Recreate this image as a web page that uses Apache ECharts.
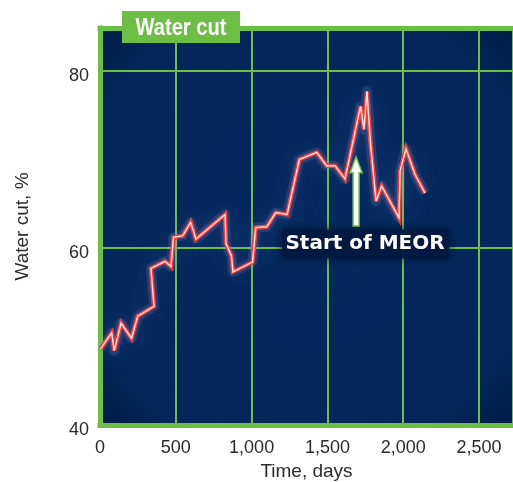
<!DOCTYPE html>
<html>
<head>
<meta charset="utf-8">
<title>Water cut</title>
<script src="https://cdn.jsdelivr.net/npm/echarts@6/dist/echarts.min.js"></script>
<style>
  html, body { margin: 0; padding: 0; background: #ffffff; }
  #chart { width: 513px; height: 482px; }
</style>
</head>
<body>
<div id="chart"></div>
<script>
// Field water cut history (days since start, %)
var days = [3, 77, 94, 139, 208, 249, 356, 336, 429, 468, 485, 546, 598, 633, 825, 831, 867, 877,
            1006, 1027, 1100, 1159, 1234, 1315, 1429, 1495, 1550, 1616, 1718, 1741, 1761, 1784,
            1821, 1858, 1972, 1979, 2018, 2078, 2144];
var waterCut = [48.6, 50.4, 48.4, 51.5, 49.8, 52.3, 53.4, 57.7, 58.5, 57.9, 61.2, 61.4, 62.9, 61.0,
                63.8, 60.5, 59.1, 57.3, 58.4, 62.3, 62.4, 64.0, 63.8, 70.0, 70.8, 69.3, 69.3, 67.8,
                76.0, 73.4, 77.7, 71.8, 65.3, 67.0, 63.4, 68.7, 71.2, 68.3, 66.2];

// Axis settings
var xTicks = { min: 0, max: 2724, interval: 500 };
var yTicks = { min: 40, max: 84.86, interval: 20 };

// MEOR start annotation (arrow from base to tip, label centre)
var meorArrow = { day: 1689, from: 62.5, to: 70.3 };
var meorLabel = { day: 1748, value: 60.5, text: 'Start of MEOR' };

var GREEN = '#6dbe45';
var points = days.map(function (d, i) { return [d, waterCut[i]]; });

var chart = echarts.init(document.getElementById('chart'), null, { renderer: 'canvas' });

var option = {
  animation: false,
  grid: {
    left: 100, right: 0, top: 28, bottom: 57,
    outerBoundsMode: 'none',
    containLabel: false,
    show: true,
    borderWidth: 0,
    backgroundColor: new echarts.graphic.RadialGradient(0.5, 0.5, 0.75, [
      { offset: 0, color: '#03295e' },
      { offset: 0.78, color: '#03265a' },
      { offset: 1, color: '#011a42' }
    ])
  },
  xAxis: [{
    type: 'value',
    min: xTicks.min, max: xTicks.max, interval: xTicks.interval,
    name: 'Time, days',
    nameLocation: 'middle',
    nameGap: 37,
    nameTextStyle: { fontFamily: 'Liberation Sans', fontSize: 19, color: '#2b2b2b' },
    axisLine: { show: true, onZero: false, lineStyle: { color: GREEN, width: 5, cap: 'square' } },
    axisTick: { show: false },
    axisLabel: {
      margin: 14, fontFamily: 'Liberation Sans', fontSize: 18, color: '#2b2b2b',
      showMaxLabel: false,
      formatter: function (v) { return v.toLocaleString('en-US'); }
    },
    splitLine: { show: true, lineStyle: { color: GREEN, width: 2 } }
  }, {
    type: 'value',
    position: 'top',
    min: xTicks.min, max: xTicks.max, interval: xTicks.interval,
    axisLine: { show: true, onZero: false, lineStyle: { color: GREEN, width: 5, cap: 'square' } },
    axisTick: { show: false },
    axisLabel: { show: false },
    splitLine: { show: false }
  }],
  yAxis: {
    type: 'value',
    min: yTicks.min, max: yTicks.max, interval: yTicks.interval,
    name: 'Water cut, %',
    nameLocation: 'middle',
    nameGap: 68,
    nameTextStyle: { fontFamily: 'Liberation Sans', fontSize: 19, color: '#2b2b2b' },
    axisLine: { show: true, onZero: false, lineStyle: { color: GREEN, width: 5, cap: 'square' } },
    axisTick: { show: false },
    axisLabel: {
      margin: 11, fontFamily: 'Liberation Sans', fontSize: 18, color: '#2b2b2b',
      verticalAlign: 'top', lineHeight: 10,
      showMaxLabel: false
    },
    splitLine: { show: true, lineStyle: { color: GREEN, width: 2 } }
  },
  series: [{
    // soft halo behind the trace
    type: 'line', data: points, symbol: 'none', silent: true, z: 2,
    lineStyle: {
      color: 'rgba(140,150,225,0.18)', width: 10, join: 'round',
      shadowBlur: 24, shadowColor: 'rgba(150,165,235,0.7)'
    }
  }, {
    type: 'line', data: points, symbol: 'none', silent: true, z: 3,
    lineStyle: { color: '#ef3c3c', width: 4.5, join: 'miter', miterLimit: 4 }
  }, {
    type: 'line', data: points, symbol: 'none', silent: true, z: 4,
    lineStyle: { color: '#ffe6e3', width: 1.4, join: 'miter', miterLimit: 4 }
  }]
};

chart.setOption(option);

function drawAnnotations() {
  var tip = chart.convertToPixel({ xAxisIndex: 0, yAxisIndex: 0 }, [meorArrow.day, meorArrow.to]);
  var base = chart.convertToPixel({ xAxisIndex: 0, yAxisIndex: 0 }, [meorArrow.day, meorArrow.from]);
  var lab = chart.convertToPixel({ xAxisIndex: 0, yAxisIndex: 0 }, [meorLabel.day, meorLabel.value]);
  var x = tip[0], ty = tip[1], by = base[1];
  var headW = 6, headH = 16, shaftW = 3;

  chart.setOption({
    graphic: [
      // panel title tab
      {
        type: 'rect', left: 122, top: 11, z: 100,
        shape: { width: 118, height: 32 },
        style: { fill: GREEN }
      },
      {
        type: 'text', x: 181, y: 28, z: 101, scaleX: 0.84,
        style: {
          text: 'Water cut', fill: '#ffffff',
          font: 'bold 24px "Liberation Sans", sans-serif',
          align: 'center', verticalAlign: 'middle'
        }
      },
      // MEOR label backing
      {
        type: 'rect', x: lab[0] - 83, y: lab[1] - 14, z: 90,
        shape: { width: 167, height: 29 },
        style: { fill: 'rgba(2,26,66,0.9)', shadowBlur: 10, shadowColor: 'rgba(0,12,40,0.9)' }
      },
      {
        type: 'text', x: lab[0], y: lab[1], z: 91,
        style: {
          text: meorLabel.text, fill: '#ffffff',
          font: 'bold 20px "DejaVu Sans", sans-serif',
          align: 'center', verticalAlign: 'middle'
        }
      },
      // MEOR arrow
      {
        type: 'polygon', z: 92,
        shape: {
          points: [
            [x, ty], [x + headW, ty + headH], [x + shaftW, ty + headH],
            [x + shaftW, by], [x - shaftW, by], [x - shaftW, ty + headH],
            [x - headW, ty + headH]
          ]
        },
        style: { fill: '#ffffff', stroke: GREEN, lineWidth: 1.5, lineJoin: 'miter' }
      }
    ]
  });
}
drawAnnotations();
</script>
</body>
</html>
